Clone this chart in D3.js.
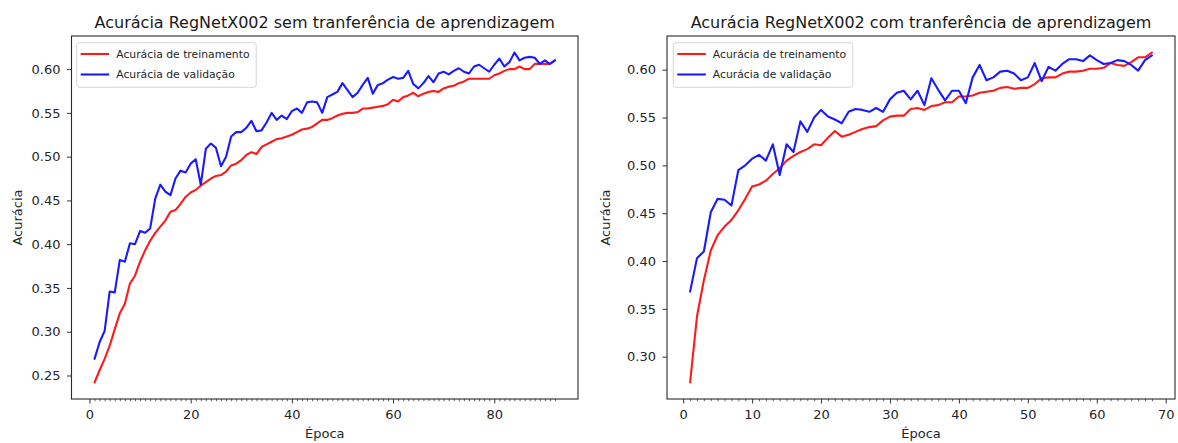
<!DOCTYPE html>
<html>
<head>
<meta charset="utf-8">
<script src="https://cdn.jsdelivr.net/npm/d3@7"></script>
<style>
  html, body { margin: 0; padding: 0; background: #fff; }
  svg { display: block; font-family: "DejaVu Sans", sans-serif; }
</style>
</head>
<body>
<svg id="chart" width="1178" height="443"></svg>
<script>
// ---------------- data ----------------
const titleA = "Acurácia RegNetX002 sem tranferência de aprendizagem";
const titleB = "Acurácia RegNetX002 com tranferência de aprendizagem";
const legendLabels = ["Acurácia de treinamento", "Acurácia de validação"];
const xLabel = "Época";
const yLabel = "Acurácia";

const trainAccA = [0.242,0.256,0.269,0.284,0.303,0.321,0.332,0.355,0.364,0.380,
  0.393,0.404,0.413,0.420,0.427,0.437,0.439,0.446,0.454,0.459,
  0.462,0.467,0.471,0.475,0.478,0.479,0.483,0.490,0.492,0.496,
  0.502,0.505,0.503,0.511,0.514,0.517,0.520,0.521,0.523,0.525,
  0.528,0.531,0.532,0.534,0.538,0.542,0.542,0.544,0.547,0.549,
  0.550,0.550,0.551,0.555,0.555,0.556,0.557,0.558,0.560,0.565,
  0.563,0.568,0.570,0.573,0.569,0.572,0.574,0.575,0.574,0.578,
  0.580,0.581,0.584,0.586,0.589,0.589,0.589,0.589,0.589,0.593,
  0.595,0.598,0.600,0.600,0.603,0.600,0.600,0.606,0.606,0.606,
  0.606,0.610];
const valAccA = [0.269,0.288,0.301,0.346,0.345,0.382,0.380,0.401,0.400,0.415,
  0.413,0.418,0.452,0.468,0.460,0.456,0.475,0.484,0.482,0.492,
  0.497,0.468,0.509,0.515,0.510,0.489,0.500,0.523,0.528,0.528,
  0.533,0.541,0.529,0.530,0.539,0.550,0.542,0.547,0.543,0.552,
  0.555,0.550,0.562,0.563,0.562,0.550,0.568,0.571,0.574,0.584,
  0.576,0.568,0.573,0.582,0.590,0.572,0.582,0.584,0.588,0.591,
  0.589,0.590,0.598,0.583,0.578,0.584,0.592,0.585,0.595,0.597,
  0.594,0.598,0.601,0.597,0.595,0.603,0.605,0.601,0.597,0.605,
  0.612,0.603,0.608,0.619,0.610,0.613,0.614,0.613,0.606,0.610,
  0.606,0.610];

const trainAccB = [0.273,0.342,0.380,0.411,0.427,0.436,0.443,0.453,0.465,0.478,
  0.480,0.484,0.491,0.497,0.505,0.510,0.514,0.517,0.522,0.521,
  0.529,0.536,0.530,0.532,0.535,0.538,0.540,0.541,0.547,0.551,
  0.552,0.552,0.559,0.560,0.558,0.562,0.563,0.566,0.566,0.572,
  0.572,0.573,0.576,0.577,0.578,0.581,0.582,0.580,0.581,0.581,
  0.585,0.591,0.592,0.592,0.596,0.598,0.598,0.599,0.601,0.601,
  0.602,0.607,0.605,0.604,0.608,0.613,0.613,0.618];
const valAccB = [0.368,0.403,0.410,0.451,0.465,0.464,0.458,0.495,0.500,0.507,
  0.511,0.505,0.522,0.490,0.522,0.514,0.546,0.535,0.550,0.558,
  0.551,0.548,0.544,0.556,0.559,0.558,0.556,0.560,0.556,0.569,
  0.576,0.578,0.569,0.578,0.563,0.591,0.579,0.568,0.578,0.578,
  0.565,0.592,0.605,0.589,0.592,0.598,0.599,0.596,0.589,0.592,
  0.607,0.588,0.603,0.599,0.606,0.611,0.611,0.609,0.615,0.610,
  0.606,0.607,0.610,0.609,0.605,0.599,0.610,0.615];

const xTicksA = [0, 20, 40, 60, 80];
const yTicksA = [0.25, 0.30, 0.35, 0.40, 0.45, 0.50, 0.55, 0.60];
const xTicksB = [0, 10, 20, 30, 40, 50, 60, 70];
const yTicksB = [0.30, 0.35, 0.40, 0.45, 0.50, 0.55, 0.60];

const seriesColors = ["#ff1a1a", "#1a1aff"];

// ---------------- drawing ----------------
const svg = d3.select("#chart");
svg.append("rect").attr("width", 1178).attr("height", 443).attr("fill", "#fff");

function padDomain(ext, frac) {
  const r = ext[1] - ext[0];
  return [ext[0] - r * frac, ext[1] + r * frac];
}

function panel(cfg) {
  const g = svg.append("g");
  const n = cfg.train.length;
  const epochs = d3.range(1, n + 1);
  const x = d3.scaleLinear()
    .domain(padDomain([1, n], 0.05))
    .range([cfg.left, cfg.right]);
  const allVals = cfg.train.concat(cfg.val);
  const y = d3.scaleLinear()
    .domain(padDomain(d3.extent(allVals), 0.05))
    .range([cfg.bottom, cfg.top]);

  // minor x ticks at every epoch
  const minor = epochs.filter(e => cfg.xTicks.indexOf(e) < 0);
  g.append("g")
    .attr("transform", `translate(0,${cfg.bottom})`)
    .call(d3.axisBottom(x).tickValues(minor).tickSize(2.2).tickFormat(""))
    .call(a => a.select(".domain").remove())
    .call(a => a.selectAll("line").attr("stroke", "#333").attr("stroke-width", 0.8));

  // major x ticks
  g.append("g")
    .attr("transform", `translate(0,${cfg.bottom})`)
    .call(d3.axisBottom(x).tickValues(cfg.xTicks).tickSize(4.5).tickPadding(6.3).tickFormat(d3.format("d")))
    .call(a => a.select(".domain").remove())
    .call(a => a.selectAll("line").attr("stroke", "#333").attr("stroke-width", 1))
    .call(a => a.selectAll("text").attr("font-size", 13).attr("fill", "#262626")
      .attr("font-family", "DejaVu Sans"));

  // y ticks
  g.append("g")
    .attr("transform", `translate(${cfg.left},0)`)
    .call(d3.axisLeft(y).tickValues(cfg.yTicks).tickSize(4.5).tickPadding(6.5).tickFormat(d3.format(".2f")))
    .call(a => a.select(".domain").remove())
    .call(a => a.selectAll("line").attr("stroke", "#333").attr("stroke-width", 1))
    .call(a => a.selectAll("text").attr("font-size", 13).attr("fill", "#262626")
      .attr("font-family", "DejaVu Sans"));

  // lines
  const line = d3.line().x((d, i) => x(epochs[i])).y(d => y(d));
  [cfg.train, cfg.val].forEach((s, k) => {
    g.append("path").datum(s)
      .attr("fill", "none")
      .attr("stroke", seriesColors[k])
      .attr("stroke-width", 2.1)
      .attr("stroke-linejoin", "round")
      .attr("stroke-linecap", "round")
      .attr("d", line);
  });

  // frame
  g.append("rect")
    .attr("x", cfg.left).attr("y", cfg.top)
    .attr("width", cfg.right - cfg.left).attr("height", cfg.bottom - cfg.top)
    .attr("fill", "none").attr("stroke", "#2a2a2a").attr("stroke-width", 1.1);

  // title
  g.append("text")
    .attr("x", (cfg.left + cfg.right) / 2).attr("y", 28)
    .attr("text-anchor", "middle").attr("font-size", 16).attr("fill", "#1a1a1a")
    .text(cfg.title);

  // x label
  g.append("text")
    .attr("x", (cfg.left + cfg.right) / 2).attr("y", 438)
    .attr("text-anchor", "middle").attr("font-size", 13).attr("fill", "#262626")
    .text(xLabel);

  // y label
  g.append("text")
    .attr("transform", `translate(${cfg.ylabelX},${(cfg.top + cfg.bottom) / 2}) rotate(-90)`)
    .attr("text-anchor", "middle").attr("font-size", 13).attr("fill", "#262626")
    .text(yLabel);

  // legend
  const lg = g.append("g");
  lg.append("rect")
    .attr("x", cfg.legX).attr("y", 42.7)
    .attr("width", 179.5).attr("height", 44.6)
    .attr("rx", 2.5).attr("ry", 2.5)
    .attr("fill", "#fff").attr("fill-opacity", 0.85)
    .attr("stroke", "#d6d6d6").attr("stroke-width", 1);
  legendLabels.forEach((lab, k) => {
    const yy = 54 + k * 20.5;
    lg.append("line")
      .attr("x1", cfg.legX + 4).attr("x2", cfg.legX + 32.5)
      .attr("y1", yy).attr("y2", yy)
      .attr("stroke", seriesColors[k]).attr("stroke-width", 2.1);
    lg.append("text")
      .attr("x", cfg.legX + 39.5).attr("y", yy + 3.9)
      .attr("font-size", 10.8).attr("fill", "#262626")
      .text(lab);
  });
}

panel({ title: titleA, train: trainAccA, val: valAccA, xTicks: xTicksA, yTicks: yTicksA,
  left: 71.5, right: 578, top: 36, bottom: 399, ylabelX: 21.5, legX: 76.7 });
panel({ title: titleB, train: trainAccB, val: valAccB, xTicks: xTicksB, yTicks: yTicksB,
  left: 667, right: 1175, top: 36, bottom: 399, ylabelX: 609.5, legX: 673.3 });
</script>
</body>
</html>
